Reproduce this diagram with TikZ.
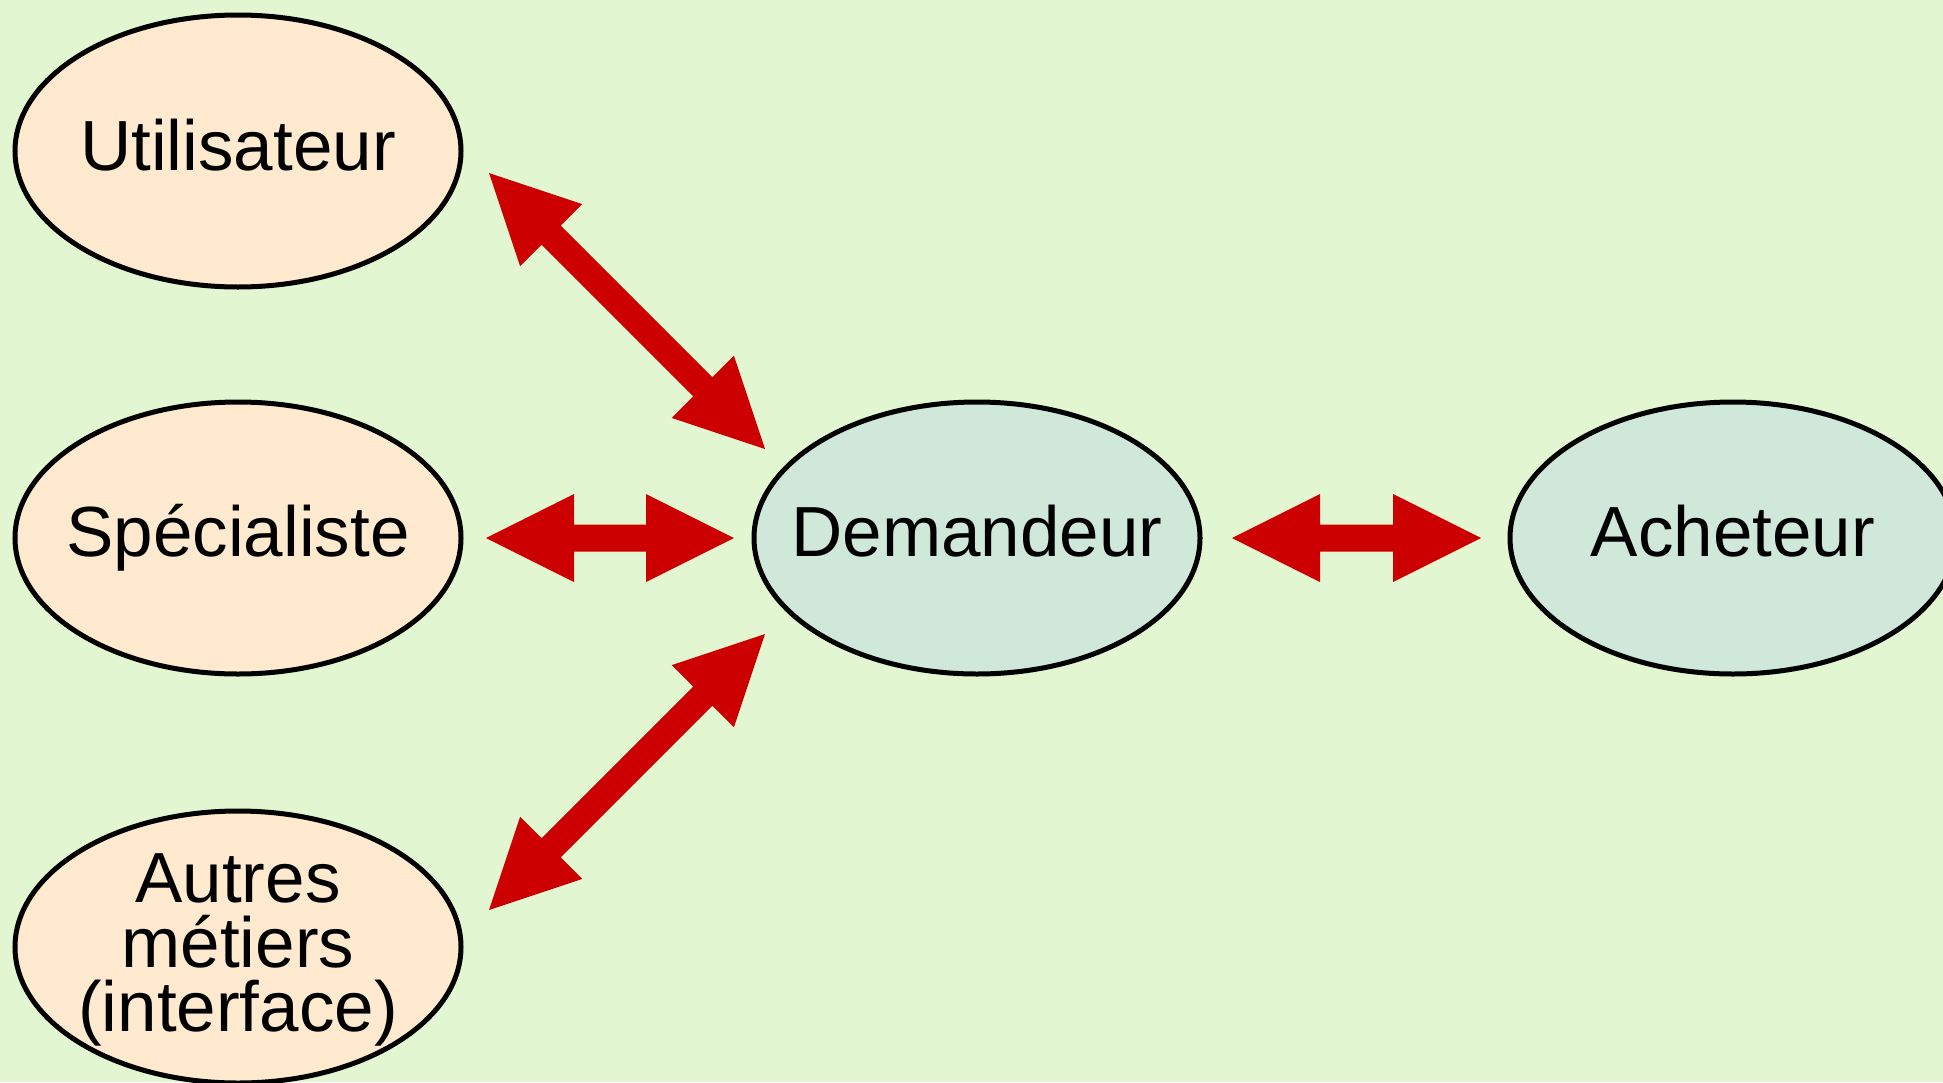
\documentclass[tikz,border=0pt]{standalone}
\usepackage{fontspec}
\setmainfont{Liberation Sans}
\usetikzlibrary{shapes.geometric,calc}
\definecolor{bgreen}{RGB}{226,246,210}
\definecolor{peachfill}{RGB}{255,234,208}
\definecolor{mintfill}{RGB}{207,232,218}
\definecolor{arrowred}{RGB}{204,0,0}
\newcommand\dblarrow[2]{%
  \fill[arrowred] (#1)
    -- ($(#1)!88pt!(#2)!44pt!90:(#2)$)
    -- ($(#1)!88pt!(#2)!13.5pt!90:(#2)$)
    -- ($(#2)!88pt!(#1)!13.5pt!-90:(#1)$)
    -- ($(#2)!88pt!(#1)!44pt!-90:(#1)$)
    -- (#2)
    -- ($(#2)!88pt!(#1)!44pt!90:(#1)$)
    -- ($(#2)!88pt!(#1)!13.5pt!90:(#1)$)
    -- ($(#1)!88pt!(#2)!13.5pt!-90:(#2)$)
    -- ($(#1)!88pt!(#2)!44pt!-90:(#2)$)
    -- cycle;}
\begin{document}
\begin{tikzpicture}[x=1pt,y=-1pt,
  oval/.style={ellipse, draw=black, line width=5pt, minimum width=446pt, minimum height=272pt, inner sep=0pt},
  peachoval/.style={oval, fill=peachfill},
  mintoval/.style={oval, fill=mintfill},
  lbl/.style={font=\fontsize{71pt}{64.5pt}\selectfont, inner sep=0pt, align=center, text=black}]
\useasboundingbox (0,0) rectangle (1943,1082);
\clip (0,0) rectangle (1943,1082);
\fill[bgreen] (0,0) rectangle (1943,1082);
% ellipses
\node[peachoval] (u) at (238,151) {};
\node[peachoval] (s) at (238,538) {};
\node[peachoval] (a) at (238,947) {};
\node[mintoval] (d) at (977,538) {};
\node[mintoval] (b) at (1733,538) {};
% labels
\node[lbl, anchor=base] (ut) at ($(u)+(0,19)$) {Utilisateur};
\node[lbl, anchor=base] (st) at ($(s)+(0,18)$) {Spécialiste};
\node[lbl] (at) at ($(a)+(0,3)$) {Autres\\métiers\\(interface)};
\node[lbl, anchor=base] (dt) at ($(d)+(0,18)$) {Demandeur};
\node[lbl, anchor=base] (bt) at ($(b)+(0,18)$) {Acheteur};
% arrow ends
\coordinate (u1) at (489,173);
\coordinate (d1) at (765,449);
\coordinate (s1) at (486,538);
\coordinate (d2) at (734,538);
\coordinate (a1) at (489,910);
\coordinate (d3) at (765,634);
\coordinate (d4) at (1232,538);
\coordinate (b1) at (1481,538);
\dblarrow{u1}{d1}
\dblarrow{s1}{d2}
\dblarrow{a1}{d3}
\dblarrow{d4}{b1}
\end{tikzpicture}
\end{document}
